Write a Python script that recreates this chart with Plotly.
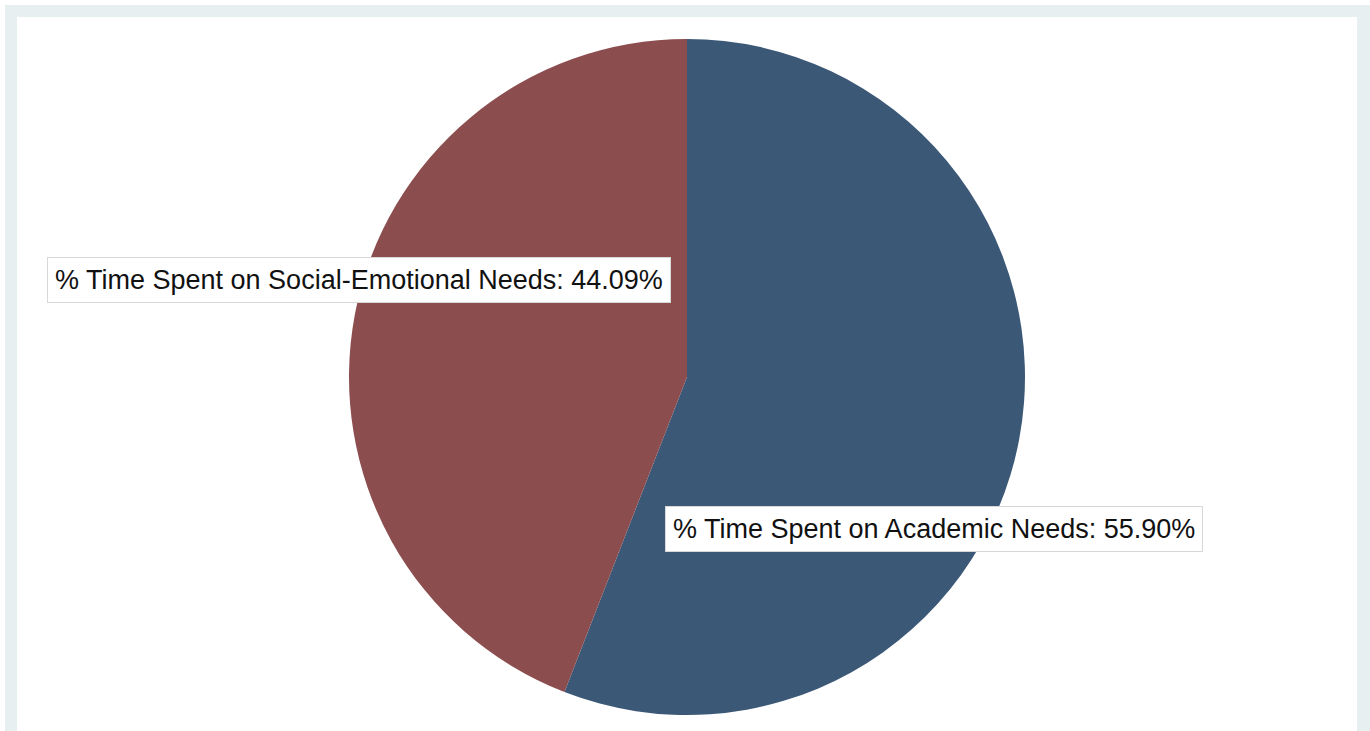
import plotly.graph_objects as go

categories = ["% Time Spent on Academic Needs", "% Time Spent on Social-Emotional Needs"]
values = [55.90, 44.09]
colors = ["#3c5877", "#8c4d4f"]
label_text = ["% Time Spent on Academic Needs: 55.90%", "% Time Spent on Social-Emotional Needs: 44.09%"]
label_pos = [(934, 529), (359, 280)]

W, H = 1370, 731

fig = go.Figure()
fig.add_trace(go.Pie(
    labels=categories, values=values, sort=False, direction="clockwise", rotation=0,
    marker=dict(colors=colors, line=dict(width=0)),
    textinfo="none", hoverinfo="label+percent", showlegend=False,
    domain=dict(x=[(687 - 338) / W, (687 + 338) / W], y=[16 / H, 692 / H]),
))

shapes = [
    dict(type="rect", xref="paper", yref="paper", x0=5 / W, x1=1.01, y0=-0.05, y1=1 - 5 / H,
         fillcolor="#e8eff0", line=dict(width=0), layer="below"),
    dict(type="rect", xref="paper", yref="paper", x0=17 / W, x1=1357 / W, y0=-0.05, y1=1 - 17 / H,
         fillcolor="white", line=dict(width=0), layer="below"),
]

annotations = []
for txt, (px, py) in zip(label_text, label_pos):
    annotations.append(dict(
        text=txt, x=px / W, y=1 - py / H, xref="paper", yref="paper",
        xanchor="center", yanchor="middle", showarrow=False,
        font=dict(family="Liberation Sans, Arial, sans-serif", size=27, color="#111111"),
        bgcolor="white", bordercolor="#d8d8d8", borderwidth=1, borderpad=7,
    ))

fig.update_layout(
    width=W, height=H, margin=dict(l=0, r=0, t=0, b=0),
    paper_bgcolor="white", plot_bgcolor="white",
    shapes=shapes, annotations=annotations,
)

fig.write_html("out.html")
